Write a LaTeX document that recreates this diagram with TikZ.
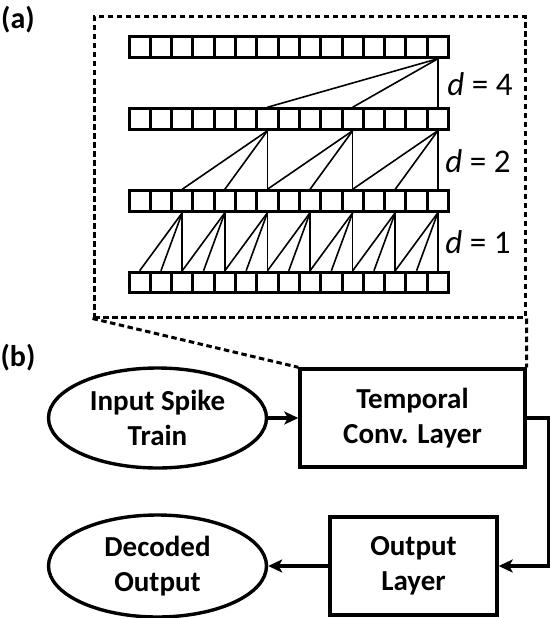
\documentclass[tikz,border=0pt]{standalone}
\usepackage{fontspec}
\setmainfont{Carlito}
\usetikzlibrary{shapes.geometric,arrows.meta}
\begin{document}
\begin{tikzpicture}[x=1pt,y=-1pt,
  cell/.style={draw,line width=3pt,minimum width=21.3pt,minimum height=20.5pt,inner sep=0pt},
  wire/.style={line width=1.6pt},
  blk/.style={draw,line width=3.4pt,align=center,font=\fontsize{29}{35}\selectfont\bfseries},
  ell/.style={blk,ellipse,inner sep=0pt},
  arr/.style={line width=3.2pt,-{Stealth[length=14pt,width=13pt,inset=3.5pt]}},
  callout/.style={line width=3pt,dash pattern=on 5.5pt off 3.5pt},
  dlbl/.style={font=\fontsize{33}{38}\selectfont,inner sep=0pt},
  tag/.style={font=\fontsize{30}{34}\selectfont\bfseries,inner sep=0pt}]
\useasboundingbox (0,0) rectangle (551,618);
% (a) dilated convolution layers
\node[tag] (taga) at (18,20) {(a)};
\node[callout,draw,minimum width=431pt,minimum height=300pt] (frame) at (309.5,167) {};
\foreach \r/\y in {1/47,2/119,3/201,4/282.5}
  \foreach \i in {0,...,14}
    \node[cell] (r\r-\i) at (139.65+21.3*\i,\y) {};
% d = 1
\foreach \i in {2,4,...,14}
  \foreach \k in {0,1,2}{
    \pgfmathtruncatemacro\j{\i-\k}
    \draw[wire] (r3-\i.south) -- (r4-\j.north);}
% d = 2
\foreach \i in {6,10,14}
  \foreach \k in {0,1,2}{
    \pgfmathtruncatemacro\j{\i-2*\k}
    \draw[wire] (r2-\i.south) -- (r3-\j.north);}
% d = 4
\foreach \k in {0,1,2}{
  \pgfmathtruncatemacro\j{14-4*\k}
  \draw[wire] (r1-14.south) -- (r2-\j.north);}
\node[dlbl] (d4) at (480,84) {\textit{d} = 4};
\node[dlbl] (d2) at (478,161) {\textit{d} = 2};
\node[dlbl] (d1) at (478,242) {\textit{d} = 1};
% (b) network
\node[tag] (tagb) at (18,358) {(b)};
\node[ell,minimum width=218pt,minimum height=100pt] (inp) at (157.5,418) {Input Spike\\Train};
\node[blk,minimum width=225pt,minimum height=98pt] (tcl) at (412.5,418) {Temporal\\Conv. Layer};
\node[blk,minimum width=167pt,minimum height=98pt] (outl) at (413.5,566) {Output\\Layer};
\node[ell,minimum width=218pt,minimum height=102pt] (dec) at (157.5,566) {Decoded\\Output};
\draw[callout] (frame.south west) -- (tcl.north west);
\draw[callout] (frame.south east) -- (tcl.north east);
\draw[arr] (inp) -- (tcl);
\draw[arr] (tcl.east) -- ++(22,0) |- (outl.east);
\draw[arr] (outl) -- (dec);
\end{tikzpicture}
\end{document}
